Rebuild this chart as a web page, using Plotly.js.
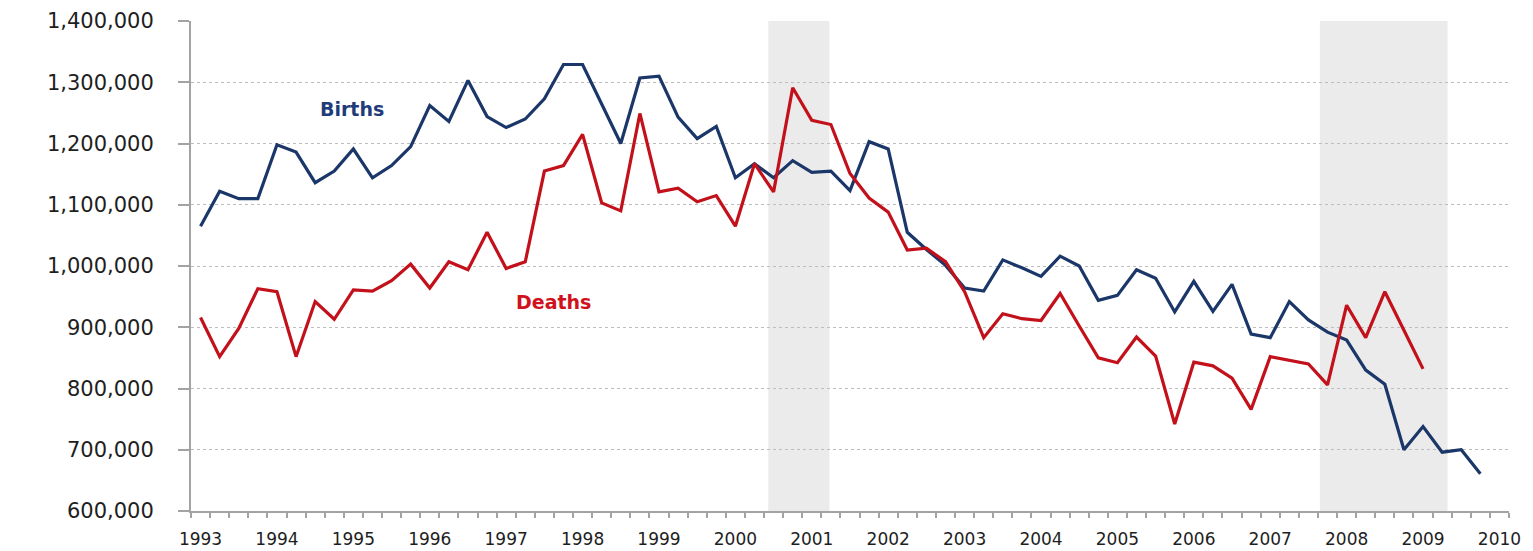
<!DOCTYPE html>
<html>
<head>
<meta charset="utf-8">
<script src="https://cdn.plot.ly/plotly-3.0.1.min.js"></script>
<style>
  html, body { margin: 0; padding: 0; background: #ffffff; }
  #chart { width: 1533px; height: 551px; }
</style>
</head>
<body>
<div id="chart"></div>
<script>
// ---- Data (quarterly, first quarter = 1993 Q1) ----
const startYear = 1993;
const tickYears = [1993, 1994, 1995, 1996, 1997, 1998, 1999, 2000, 2001, 2002,
                   2003, 2004, 2005, 2006, 2007, 2008, 2009, 2010];

const births = [1065000, 1122000, 1110000, 1110000, 1198000, 1186000, 1136000, 1155000,
                1191000, 1144000, 1164000, 1195000, 1262000, 1236000, 1303000, 1244000,
                1226000, 1240000, 1273000, 1329000, 1329000, 1265000, 1200000, 1307000,
                1310000, 1243000, 1208000, 1228000, 1144000, 1167000, 1144000, 1172000,
                1153000, 1155000, 1123000, 1203000, 1191000, 1055000, 1027000, 1001000,
                964000, 959000, 1010000, 997000, 983000, 1016000, 1000000, 944000,
                952000, 994000, 980000, 925000, 975000, 926000, 970000, 889000,
                883000, 942000, 912000, 892000, 879000, 830000, 807000, 700000,
                738000, 696000, 700000, 661000];

const deaths = [916000, 852000, 898000, 963000, 958000, 852000, 942000, 913000,
                961000, 959000, 976000, 1003000, 964000, 1007000, 994000, 1055000,
                996000, 1007000, 1155000, 1164000, 1215000, 1103000, 1090000, 1249000,
                1121000, 1127000, 1105000, 1115000, 1065000, 1167000, 1121000, 1291000,
                1238000, 1231000, 1151000, 1111000, 1088000, 1026000, 1029000, 1007000,
                958000, 883000, 922000, 914000, 911000, 955000, 902000, 850000,
                842000, 884000, 853000, 742000, 843000, 837000, 817000, 766000,
                852000, 846000, 840000, 806000, 936000, 883000, 958000, 895000,
                832000];

// shaded periods (in decimal years, same scale as the quarters)
const recessionStart = [2000.43, 2007.65];
const recessionEnd   = [2001.23, 2009.32];

// ---- Build ----
const quarterX = n => Array.from({length: n}, (_, i) => startYear + i / 4);

const axisGray = '#a3a3a3';
const textColor = '#1e1e1e';

const traces = [
  { x: quarterX(births.length), y: births, type: 'scatter', mode: 'lines',
    name: 'Births', line: { color: '#1b3668', width: 3.2 }, hoverinfo: 'x+y' },
  { x: quarterX(deaths.length), y: deaths, type: 'scatter', mode: 'lines',
    name: 'Deaths', line: { color: '#c3111b', width: 3.2 }, hoverinfo: 'x+y' }
];

const shapes = recessionStart.map((s, k) => ({
  type: 'rect', xref: 'x', yref: 'paper', x0: s, x1: recessionEnd[k], y0: 0, y1: 1,
  fillcolor: '#ebebeb', line: { width: 0 }, layer: 'below'
}));

const layout = {
  width: 1533, height: 551,
  margin: { l: 191, r: 24, t: 21, b: 40 },
  paper_bgcolor: '#ffffff', plot_bgcolor: '#ffffff',
  showlegend: false,
  xaxis: {
    type: 'linear',
    range: [startYear - 0.125, startYear + 68.5 / 4],
    tickvals: tickYears, ticktext: tickYears.map(String),
    ticks: '', showgrid: false, zeroline: false,
    showline: true, linecolor: axisGray, linewidth: 2,
    tickfont: { family: 'DejaVu Sans', size: 17, color: textColor },
    ticklabelstandoff: 12,
    minor: { dtick: 0.25, tick0: startYear - 0.125, ticks: 'outside', ticklen: 5,
             tickcolor: axisGray, tickwidth: 2, showgrid: false }
  },
  yaxis: {
    range: [600000, 1400000], tick0: 600000, dtick: 100000, tickformat: ',d',
    ticks: 'outside', ticklen: 11, tickcolor: axisGray, tickwidth: 2,
    showline: true, linecolor: axisGray, linewidth: 2,
    showgrid: true, gridcolor: '#bdbdbd', griddash: 'dot', gridwidth: 1,
    zeroline: false,
    tickfont: { family: 'DejaVu Sans', size: 21, color: textColor },
    ticklabelstandoff: 20
  },
  shapes: shapes,
  annotations: [
    { x: 1994.98, y: 1256300, xref: 'x', yref: 'y', text: 'Births', showarrow: false,
      font: { family: 'DejaVu Sans', size: 19, weight: 'bold', color: '#1f3c7a' } },
    { x: 1997.625, y: 941700, xref: 'x', yref: 'y', text: 'Deaths', showarrow: false,
      font: { family: 'DejaVu Sans', size: 19, weight: 'bold', color: '#d0121c' } }
  ]
};

Plotly.newPlot('chart', traces, layout, { displayModeBar: false, staticPlot: true });
</script>
</body>
</html>
